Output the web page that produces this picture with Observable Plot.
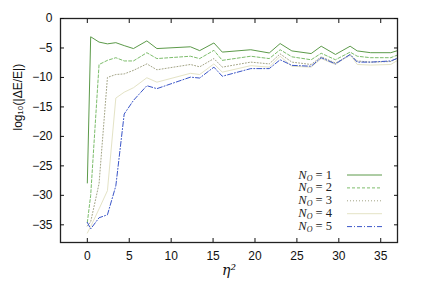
<!DOCTYPE html>
<html><head><meta charset="utf-8">
<script src="https://cdn.jsdelivr.net/npm/d3@7"></script>
<script src="https://cdn.jsdelivr.net/npm/@observablehq/plot@0.6"></script>
<style>
body{margin:0;background:#fff}
#wrap{position:relative;width:428px;height:295px}
#legend{position:absolute;left:0;top:0;pointer-events:none}
</style>
</head><body><div id="wrap"></div>
<script>
const eta2 = [0, 0.4, 1.4, 2.4, 3.4, 4.4, 5.5, 7.1, 8.3, 12.3, 13.4, 15.1, 16.1, 19.5, 21.7, 23.0, 24.4, 26.7, 27.9, 29.6, 31.35, 32.2, 33.8, 36.2, 36.9];
const n1 = [-27.9, -3.1, -4.0, -4.3, -4.1, -4.6, -5.1, -3.8, -5.1, -4.8, -5.45, -4.15, -5.7, -5.3, -5.85, -4.25, -5.5, -5.95, -4.7, -6.1, -4.7, -5.5, -5.8, -5.8, -5.5];
const n2 = [-34.6, -30, -7.8, -7.1, -6.65, -7.2, -7.2, -5.8, -6.8, -6.4, -6.8, -5.4, -7.1, -6.4, -6.8, -5.3, -6.5, -7.0, -5.9, -7.0, -5.7, -6.4, -6.65, -6.65, -6.25];
const n3 = [-35.2, -34.5, -28, -10.0, -9.5, -9.4, -8.8, -7.7, -8.7, -7.8, -8.2, -6.8, -8.25, -7.4, -7.7, -6.0, -7.4, -7.8, -6.5, -7.55, -6.25, -7.2, -7.4, -7.3, -6.8];
const n4 = [-36.4, -35.3, -32.3, -29.2, -13.5, -12.5, -11.75, -10.05, -10.8, -9.3, -9.5, -7.7, -9.1, -8.0, -8.25, -6.4, -8.1, -8.25, -6.8, -7.8, -6.1, -7.8, -7.9, -7.8, -7.2];
const n5 = [-34.6, -35.7, -33.8, -33.3, -28.4, -16.2, -13.9, -11.4, -11.9, -9.95, -10.1, -8.25, -9.8, -8.5, -8.5, -7.0, -7.95, -8.1, -6.65, -7.7, -6.1, -7.4, -7.4, -7.2, -6.8];
const seriesNames = ["1", "2", "3", "4", "5"];
const seriesValues = [n1, n2, n3, n4, n5];
const xTicks = [0, 5, 10, 15, 20, 25, 30, 35];
const yTicks = [-35, -30, -25, -20, -15, -10, -5, 0];
const xLabel = "η²";
const yLabel = "log₁₀(|ΔE/E|)";

const colors = ["#5c9a4a", "#7dbd6c", "#a3a486", "#e4e3c6", "#3a55c8"];
const dashes = [null, "3,2", "1,2", null, "5,2,1,2"];

const rows = seriesNames.flatMap((s, i) => eta2.map((x, j) => ({x, y: seriesValues[i][j], s})));

const plot = Plot.plot({
  width: 428, height: 295,
  marginLeft: 60, marginRight: 31, marginTop: 18, marginBottom: 53,
  x: {domain: [-3.2, 37]},
  y: {domain: [-38, 0]},
  style: {fontFamily: "'Liberation Sans', Arial, sans-serif", fontSize: "12px", color: "#111", background: "#fff"},
  marks: [
    ...seriesNames.map((s, i) => Plot.line(rows.filter(r => r.s === s), {
      x: "x", y: "y", stroke: colors[i], strokeWidth: 1, strokeDasharray: dashes[i]
    })),
    Plot.frame({stroke: "#222", strokeWidth: 1.3}),
    Plot.axisX({anchor: "bottom", ticks: xTicks, tickSize: -4, tickPadding: 13, label: null}),
    Plot.axisX({anchor: "top", ticks: xTicks, tickSize: -4, tickFormat: () => "", label: null}),
    Plot.axisY({anchor: "left", ticks: yTicks, tickSize: -4, tickPadding: 12, label: null}),
    Plot.axisY({anchor: "right", ticks: yTicks, tickSize: -4, tickFormat: () => "", label: null}),
    Plot.text([yLabel], {text: d => d, frameAnchor: "left", dx: -42, rotate: -90, fontSize: 12}),
    Plot.text([xLabel], {text: d => d, frameAnchor: "bottom", dy: 32, fontSize: 14, fontStyle: "italic", fontFamily: "'DejaVu Serif', serif"})
  ]
});
const wrap = document.getElementById("wrap");
wrap.appendChild(plot);

// legend overlay
const ns = "http://www.w3.org/2000/svg";
const lg = document.createElementNS(ns, "svg");
lg.setAttribute("id", "legend");
lg.setAttribute("width", 428); lg.setAttribute("height", 295);
const y0 = 175, dy = 12.9;
seriesNames.forEach((s, i) => {
  const y = y0 + i * dy;
  const t = document.createElementNS(ns, "text");
  t.setAttribute("x", 332); t.setAttribute("y", y + 3.5);
  t.setAttribute("text-anchor", "end");
  t.setAttribute("font-family", "'Liberation Serif', 'DejaVu Serif', serif");
  t.setAttribute("font-size", "12.5");
  t.setAttribute("fill", "#222");
  t.innerHTML = `<tspan font-style="italic">N</tspan><tspan font-style="italic" font-size="8" dy="2">O</tspan><tspan dy="-2"> = ${s}</tspan>`;
  lg.appendChild(t);
  const l = document.createElementNS(ns, "line");
  l.setAttribute("x1", 347); l.setAttribute("x2", 382);
  l.setAttribute("y1", y); l.setAttribute("y2", y);
  l.setAttribute("stroke", colors[i]); l.setAttribute("stroke-width", 1);
  if (dashes[i]) l.setAttribute("stroke-dasharray", dashes[i]);
  lg.appendChild(l);
});
wrap.appendChild(lg);
</script>
</body></html>
